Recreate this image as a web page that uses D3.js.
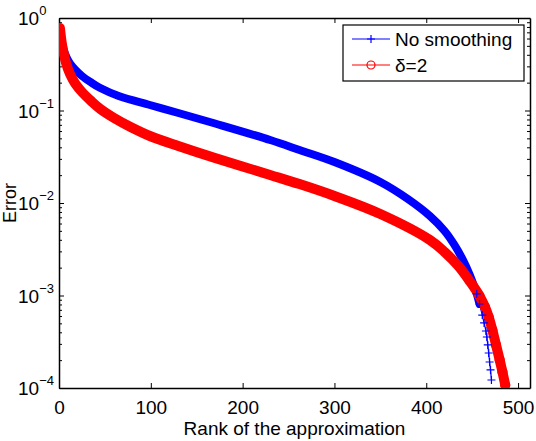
<!DOCTYPE html>
<html>
<head>
<meta charset="utf-8">
<script src="https://cdn.jsdelivr.net/npm/d3@7"></script>
<style>
  body { margin: 0; background: #fff; }
  text { font-family: "Liberation Sans", Arial, sans-serif; fill: #000; }
</style>
</head>
<body>
<div id="chart"></div>
<script>
// ranks and errors
const rankNoSmooth = [1, 2, 3, 5, 8, 12, 18, 25, 35, 45, 65, 99, 130, 170, 230, 262, 300, 350, 380, 404, 420, 430, 440, 447, 452, 455, 458, 461, 463, 465, 466, 467, 468, 469, 470, 471];
const errNoSmooth = [0.78, 0.631, 0.551, 0.457, 0.379, 0.322, 0.274, 0.236, 0.201, 0.175, 0.1435, 0.1146, 0.094, 0.0723, 0.048, 0.0374, 0.0277, 0.01687, 0.01104, 0.00723, 0.00498, 0.00361, 0.00242, 0.00171, 0.00127, 0.00104, 0.000809, 0.000615, 0.000505, 0.000413, 0.000356, 0.000292, 0.000239, 0.000191, 0.000157, 0.000122];

const rankDelta2 = [1, 2, 3, 5, 8, 12, 18, 25, 35, 45, 60, 78, 99, 130, 170, 230, 262, 300, 350, 404, 420, 435, 448, 458, 464, 468, 472, 476, 480, 483, 486];
const errDelta2 = [0.78, 0.638, 0.537, 0.419, 0.318, 0.248, 0.193, 0.1585, 0.1267, 0.1038, 0.083, 0.0663, 0.053, 0.0413, 0.0306, 0.0201, 0.016, 0.0119, 0.0076, 0.00398, 0.00295, 0.00208, 0.0014, 0.00099, 0.000751, 0.000586, 0.000424, 0.000292, 0.000201, 0.000149, 0.000108];

const seriesNames = ["No smoothing", "\u03b4=2"];
const xTicks = [0, 100, 200, 300, 400, 500];
const yTicks = [1, 0.1, 0.01, 0.001, 0.0001];
const yExp = ["0", "\u22121", "\u22122", "\u22123", "\u22124"];

const W = 536, H = 441;
const L = 59, R = 530, T = 18, B = 388;

const svg = d3.select("#chart").append("svg")
  .attr("width", W).attr("height", H);

const x = d3.scaleLinear().domain([0, 513]).range([L, R]);
const y = d3.scaleLog().domain([1e-4, 1]).range([B, T]);

svg.append("defs").append("clipPath").attr("id", "plot")
  .append("rect").attr("x", L).attr("y", T).attr("width", R - L).attr("height", B - T);

const minors = [];
for (let e = -4; e < 0; e++) for (let m = 2; m <= 9; m++) minors.push(m * Math.pow(10, e));

// axes (MATLAB style, ticks inward, box on)
const axisStyle = g => {
  g.select(".domain").attr("stroke", "#000").attr("stroke-width", 1.5);
  g.selectAll(".tick line").attr("stroke", "#000");
  g.selectAll("text").style("font-size", "19px").attr("fill", "#000");
};

svg.append("g").attr("transform", `translate(0,${B})`)
  .call(d3.axisBottom(x).tickValues(xTicks).tickSizeInner(-5).tickSizeOuter(0).tickPadding(13))
  .call(axisStyle).call(g => g.selectAll("text").attr("font-family", null));
svg.append("g").attr("transform", `translate(0,${T})`)
  .call(d3.axisTop(x).tickValues(xTicks).tickSizeInner(-5).tickSizeOuter(0).tickFormat(""))
  .call(axisStyle);

svg.append("g").attr("transform", `translate(${L},0)`)
  .call(d3.axisLeft(y).tickValues(yTicks).tickSizeInner(-5).tickSizeOuter(0).tickFormat(""))
  .call(axisStyle);
svg.append("g").attr("transform", `translate(${L},0)`)
  .call(d3.axisLeft(y).tickValues(minors).tickSizeInner(-3).tickSizeOuter(0).tickFormat(""))
  .call(g => g.select(".domain").remove()).call(axisStyle);
svg.append("g").attr("transform", `translate(${R},0)`)
  .call(d3.axisRight(y).tickValues(yTicks).tickSizeInner(-5).tickSizeOuter(0).tickFormat(""))
  .call(axisStyle);
svg.append("g").attr("transform", `translate(${R},0)`)
  .call(d3.axisRight(y).tickValues(minors).tickSizeInner(-3).tickSizeOuter(0).tickFormat(""))
  .call(g => g.select(".domain").remove()).call(axisStyle);

// y tick labels 10^k
yTicks.forEach((v, i) => {
  const t = svg.append("text")
    .attr("x", 18).attr("y", y(v) + 7)
    .style("font-size", "19px");
  t.append("tspan").text("10");
  t.append("tspan").attr("dy", -10).style("font-size", "13px").text(yExp[i]);
});

svg.append("text")
  .attr("x", (L + R) / 2).attr("y", 435)
  .attr("text-anchor", "middle").style("font-size", "19px")
  .text("Rank of the approximation");

svg.append("text")
  .attr("transform", `translate(16,${(T + B) / 2}) rotate(-90)`)
  .attr("text-anchor", "middle").style("font-size", "18px")
  .text("Error");

// data
const blue = rankNoSmooth.map((r, i) => ({ r, e: errNoSmooth[i] }));
const red = rankDelta2.map((r, i) => ({ r, e: errDelta2[i] }));

const line = d3.line().x(d => x(d.r)).y(d => y(d.e)).curve(d3.curveCatmullRom.alpha(0.5));

const plot = svg.append("g").attr("clip-path", "url(#plot)");

// dense overlapping markers appear as a thick band
plot.append("path").datum(blue.filter(d => d.r <= 458))
  .attr("d", line).attr("fill", "none").attr("stroke", "#0000ff")
  .attr("stroke-width", 8).attr("stroke-linecap", "round");
plot.append("path").datum(blue)
  .attr("d", line).attr("fill", "none").attr("stroke", "#0000ff").attr("stroke-width", 1.2);

plot.append("path").datum(red)
  .attr("d", line).attr("fill", "none").attr("stroke", "#ff0000")
  .attr("stroke-width", 10).attr("stroke-linecap", "round");
plot.selectAll(".circ").data(red.filter(d => d.r >= 458)).enter()
  .append("circle").attr("class", "circ")
  .attr("cx", d => x(d.r)).attr("cy", d => y(d.e)).attr("r", 4.5)
  .attr("fill", "none").attr("stroke", "#ff0000").attr("stroke-width", 1.2);

const plus = (g, cx, cy, s) => g.append("path")
  .attr("d", `M${cx - s},${cy}H${cx + s}M${cx},${cy - s}V${cy + s}`)
  .attr("stroke", "#0000ff").attr("stroke-width", 1.2).attr("fill", "none");
blue.filter(d => d.r >= 455).forEach(d => plus(plot, x(d.r), y(d.e), 4));

// legend
const lg = svg.append("g");
lg.append("rect").attr("x", 343).attr("y", 25).attr("width", 181).attr("height", 56)
  .attr("fill", "#fff").attr("stroke", "#000").attr("stroke-width", 1.2);
lg.append("line").attr("x1", 352).attr("x2", 390).attr("y1", 39).attr("y2", 39)
  .attr("stroke", "#0000ff").attr("stroke-width", 1.2);
plus(lg, 371, 39, 4);
lg.append("line").attr("x1", 352).attr("x2", 390).attr("y1", 65).attr("y2", 65)
  .attr("stroke", "#ff0000").attr("stroke-width", 1.2);
lg.append("circle").attr("cx", 371).attr("cy", 65).attr("r", 4)
  .attr("fill", "none").attr("stroke", "#ff0000").attr("stroke-width", 1.2);
lg.selectAll(".lt").data(seriesNames).enter().append("text")
  .attr("x", 395).attr("y", (d, i) => 46 + i * 26)
  .style("font-size", "19px").text(d => d);
</script>
</body>
</html>
